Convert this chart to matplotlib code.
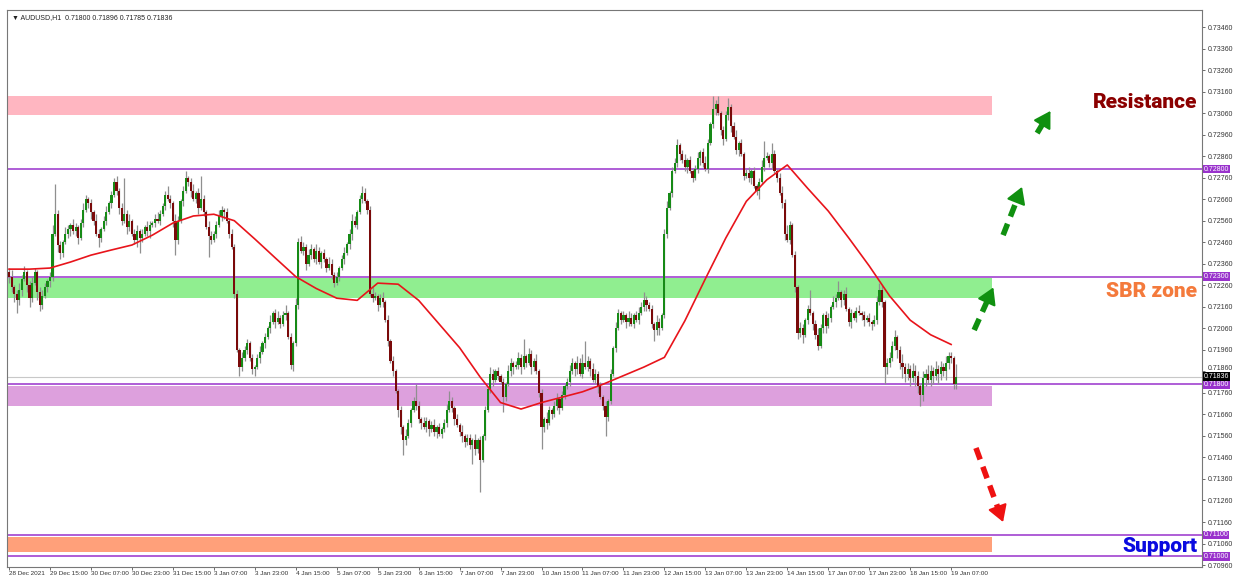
import numpy as np
import matplotlib
matplotlib.use('Agg')
import matplotlib.pyplot as plt
import matplotlib.transforms as transforms

# hourly closes, in 1e-5 above 0.70000 (open = previous close)
first_open = 2320
closes = [
	2300, 2250, 2220, 2190, 2240, 2290, 2320, 2260, 2200, 2270, 2320, 2230, 2170, 2210, 2250, 2280, 2300, 2500, 2590, 2445,
	2410, 2460, 2500, 2520, 2540, 2510, 2530, 2480, 2550, 2610, 2660, 2640, 2600, 2560, 2500, 2480, 2520, 2560, 2600, 2640,
	2680, 2740, 2700, 2620, 2560, 2590, 2530, 2560, 2500, 2470, 2510, 2480, 2500, 2530, 2510, 2540, 2550, 2570, 2560, 2590,
	2630, 2680, 2660, 2640, 2560, 2470, 2560, 2650, 2700, 2760, 2740, 2700, 2660, 2690, 2620, 2660, 2600, 2530, 2490, 2470,
	2500, 2540, 2580, 2610, 2600, 2560, 2500, 2440, 2220, 1960, 1880, 1920, 1960, 1990, 1920, 1870, 1880, 1920, 1950, 1990,
	2020, 2060, 2090, 2130, 2090, 2110, 2080, 2120, 2130, 2020, 1890, 1990, 2170, 2460, 2420, 2440, 2360, 2400, 2430, 2380,
	2420, 2370, 2410, 2380, 2340, 2360, 2310, 2270, 2300, 2340, 2380, 2410, 2450, 2500, 2560, 2540, 2600, 2660, 2690, 2650,
	2610, 2220, 2200, 2210, 2170, 2200, 2180, 2100, 2000, 1910, 1860, 1770, 1680, 1600, 1540, 1560, 1620, 1680, 1720, 1700,
	1640, 1620, 1600, 1630, 1590, 1610, 1580, 1600, 1570, 1590, 1620, 1680, 1720, 1690, 1640, 1610, 1580, 1560, 1530, 1550,
	1520, 1540, 1500, 1540, 1450, 1560, 1680, 1780, 1850, 1820, 1860, 1840, 1810, 1740, 1800, 1860, 1900, 1880, 1890, 1920,
	1880, 1930, 1900, 1940, 1880, 1910, 1860, 1760, 1600, 1640, 1620, 1680, 1660, 1700, 1730, 1690, 1750, 1790, 1810, 1860,
	1900, 1870, 1900, 1850, 1900, 1880, 1910, 1870, 1820, 1850, 1790, 1740, 1700, 1650, 1720, 1850, 1970, 2060, 2130, 2100,
	2120, 2090, 2110, 2080, 2120, 2100, 2130, 2160, 2190, 2170, 2150, 2080, 2050, 2090, 2060, 2120, 2500, 2620, 2690, 2790,
	2830, 2910, 2870, 2840, 2810, 2840, 2790, 2760, 2800, 2850, 2880, 2830, 2800, 2920, 3010, 3080, 3100, 3060, 2980, 2940,
	3050, 3090, 3000, 2950, 2890, 2920, 2870, 2770, 2780, 2760, 2790, 2720, 2700, 2740, 2810, 2850, 2860, 2830, 2870, 2790,
	2760, 2690, 2640, 2500, 2470, 2540, 2400, 2250, 2040, 2060, 2030, 2100, 2150, 2130, 2080, 2030, 1980, 2060, 2120, 2070,
	2110, 2160, 2180, 2200, 2230, 2190, 2220, 2150, 2090, 2130, 2110, 2140, 2130, 2120, 2100, 2110, 2090, 2080, 2100, 2180,
	2240, 2180, 1880, 1900, 1920, 1980, 2020, 1960, 1900, 1880, 1850, 1870, 1830, 1860, 1840, 1790, 1750, 1830, 1850, 1820,
	1860, 1840, 1870, 1850, 1880, 1860, 1900, 1930, 1920, 1800, 1836]

# wick lengths in pips above / below the body
wick_up = [
	2, 3, 1, 2, 3, 2, 3, 1, 2, 3, 2, 1, 2, 3, 2, 1, 2, 4, 14, 2,
	2, 1, 3, 2, 1, 3, 2, 1, 2, 3, 2, 1, 2, 1, 3, 2, 1, 2, 3, 1,
	2, 2, 3, 1, 2, 17, 2, 3, 1, 2, 3, 1, 2, 1, 3, 2, 1, 2, 3, 2,
	1, 2, 4, 2, 1, 3, 2, 1, 2, 3, 1, 2, 3, 1, 2, 11, 2, 1, 3, 2,
	1, 2, 3, 2, 1, 2, 1, 2, 1, 2, 1, 3, 2, 2, 1, 2, 1, 2, 3, 1,
	2, 1, 3, 1, 2, 3, 1, 2, 4, 1, 2, 1, 3, 2, 3, 2, 1, 3, 2, 1,
	3, 2, 1, 2, 1, 3, 2, 1, 2, 1, 2, 3, 1, 2, 3, 2, 1, 2, 3, 2,
	1, 2, 3, 2, 1, 2, 3, 1, 2, 1, 2, 1, 1, 2, 1, 3, 2, 1, 2, 8,
	2, 1, 3, 2, 1, 2, 3, 1, 2, 1, 2, 3, 5, 2, 1, 2, 1, 3, 1, 2,
	2, 1, 3, 1, 2, 1, 2, 1, 3, 2, 1, 2, 1, 2, 1, 3, 2, 1, 2, 3,
	2, 8, 1, 3, 2, 1, 3, 1, 2, 1, 3, 2, 1, 2, 3, 1, 2, 1, 2, 3,
	2, 1, 3, 2, 4, 10, 2, 1, 3, 2, 1, 2, 1, 2, 1, 2, 1, 3, 2, 1,
	2, 1, 3, 2, 1, 2, 3, 2, 4, 2, 1, 2, 1, 3, 2, 1, 2, 3, 1, 2,
	2, 3, 1, 2, 3, 1, 2, 1, 2, 3, 1, 2, 3, 2, 1, 6, 2, 4, 1, 2,
	2, 4, 1, 2, 3, 1, 2, 1, 2, 3, 1, 2, 1, 2, 3, 8, 2, 1, 5, 2,
	1, 2, 3, 2, 4, 2, 1, 2, 1, 3, 2, 1, 2, 9, 1, 2, 3, 2, 1, 2,
	2, 1, 3, 2, 5, 1, 2, 3, 1, 2, 1, 2, 3, 1, 2, 1, 2, 1, 2, 3,
	3, 2, 1, 2, 3, 2, 3, 1, 2, 4, 2, 3, 2, 4, 3, 2, 1, 3, 2, 4,
	3, 2, 4, 2, 3, 2, 3, 2, 2, 1, 6]
wick_dn = [
	3, 2, 4, 6, 2, 3, 1, 3, 4, 2, 1, 4, 3, 2, 1, 2, 3, 2, 1, 3,
	3, 2, 1, 2, 3, 1, 2, 3, 1, 2, 1, 2, 3, 2, 1, 4, 2, 1, 2, 1,
	2, 1, 2, 3, 2, 1, 3, 2, 1, 2, 3, 7, 2, 1, 2, 3, 1, 2, 1, 2,
	1, 2, 1, 2, 3, 7, 2, 1, 2, 1, 2, 3, 1, 2, 3, 1, 2, 1, 10, 2,
	1, 2, 1, 2, 3, 1, 2, 1, 2, 1, 4, 2, 1, 2, 1, 2, 3, 1, 2, 1,
	2, 1, 2, 1, 3, 1, 2, 1, 2, 1, 2, 3, 1, 2, 1, 2, 3, 1, 2, 1,
	2, 1, 3, 1, 2, 1, 2, 2, 1, 2, 1, 2, 1, 2, 3, 1, 2, 1, 2, 1,
	2, 1, 2, 1, 3, 1, 2, 1, 2, 1, 2, 1, 3, 3, 7, 2, 1, 2, 1, 2,
	2, 3, 1, 2, 3, 1, 2, 3, 1, 2, 1, 2, 1, 2, 3, 1, 2, 3, 2, 1,
	2, 9, 3, 2, 15, 1, 2, 1, 2, 3, 1, 2, 1, 7, 2, 1, 2, 3, 1, 2,
	3, 1, 2, 1, 3, 2, 1, 2, 10, 2, 3, 1, 2, 1, 2, 3, 1, 2, 1, 2,
	1, 3, 2, 1, 2, 1, 2, 3, 1, 2, 3, 1, 2, 9, 2, 1, 1, 2, 1, 2,
	1, 3, 2, 1, 2, 1, 2, 1, 2, 3, 1, 2, 5, 2, 3, 1, 1, 2, 1, 2,
	1, 2, 3, 1, 2, 3, 1, 2, 1, 2, 3, 2, 1, 2, 1, 2, 3, 1, 2, 3,
	1, 2, 3, 1, 2, 3, 1, 2, 1, 2, 3, 1, 2, 4, 1, 2, 1, 2, 3, 1,
	2, 1, 2, 3, 1, 2, 1, 2, 3, 2, 4, 1, 2, 1, 3, 2, 2, 1, 2, 3,
	1, 2, 1, 2, 1, 3, 2, 1, 2, 3, 1, 2, 1, 2, 3, 1, 2, 3, 1, 2,
	1, 2, 8, 3, 2, 1, 2, 4, 3, 5, 4, 3, 4, 2, 5, 3, 5, 3, 4, 2,
	3, 4, 2, 5, 3, 2, 4, 3, 2, 2, 2]

# moving average, read every 8 candles
ma_step = 8
ma_values = [0.72335, 0.72335, 0.72340, 0.72368, 0.72400, 0.72424, 0.72447, 0.72493, 0.72549, 0.72582,
	0.72590, 0.72560, 0.72475, 0.72387, 0.72300, 0.72245, 0.72200, 0.72190, 0.72270, 0.72265,
	0.72190, 0.72080, 0.71970, 0.71834, 0.71715, 0.71685, 0.71715, 0.71740, 0.71765, 0.71800,
	0.71840, 0.71880, 0.71925, 0.72095, 0.72290, 0.72480, 0.72650, 0.72750, 0.72819, 0.72710,
	0.72605, 0.72480, 0.72350, 0.72210, 0.72098, 0.72030, 0.71985]

time_step = 16
time_labels = ['28 Dec 2021', '29 Dec 15:00', '30 Dec 07:00', '30 Dec 23:00', '31 Dec 15:00', '3 Jan 07:00',
	'3 Jan 23:00', '4 Jan 15:00', '5 Jan 07:00', '5 Jan 23:00', '6 Jan 15:00', '7 Jan 07:00', '7 Jan 23:00',
	'10 Jan 15:00', '11 Jan 07:00', '11 Jan 23:00', '12 Jan 15:00', '13 Jan 07:00', '13 Jan 23:00',
	'14 Jan 15:00', '17 Jan 07:00', '17 Jan 23:00', '18 Jan 15:00', '19 Jan 07:00']

levels = [0.72800, 0.72300, 0.71800, 0.71100, 0.71000]
bid = 0.71836
zones = [(0.73050, 0.73140, '#ffb6c1'), (0.72200, 0.72295, '#90ee90'),
	(0.71700, 0.71790, '#dda0dd'), (0.71020, 0.71090, '#ffa07a')]
zone_end = 384

arrows = [((377.0, 0.72052), (384.5, 0.72250), '#109010'),
	((388.3, 0.72493), (395.7, 0.72717), '#109010'),
	((401.6, 0.72967), (406.8, 0.73070), '#109010'),
	((377.7, 0.71504), (388.3, 0.71160), '#ee1111')]

labels = [('Resistance', 0.73111, '#8b0000'), ('SBR zone', 0.72233, '#f47a3c'), ('Support', 0.71048, '#0a0ae0')]

PURPLE = '#9932cc'
SMALL = ['Liberation Sans', 'DejaVu Sans']


def main():
	fig = plt.figure(figsize = (12.36, 5.79), dpi = 100)
	ax = fig.add_axes([7 / 1236, 12 / 579, 1195 / 1236, 557 / 579])

	c = 0.7 + np.array(closes) / 1e5
	o = np.r_[0.7 + first_open / 1e5, c[:-1]]
	hi = np.maximum(o, c) + np.array(wick_up) * 1e-4
	lo = np.minimum(o, c) - np.array(wick_dn) * 1e-4
	idx = np.arange(len(c))

	for (z0, z1, col) in zones:
		ax.fill_between([-1, zone_end], z0, z1, color = col, linewidth = 0, zorder = 1)
	for lv in levels:
		ax.axhline(lv, color = PURPLE, linewidth = 1.1, zorder = 2)
	ax.axhline(bid, color = '#c8c8c8', linewidth = 0.8, zorder = 2)

	ax.vlines(idx, lo, hi, color = '#8f8f8f', linewidth = 0.9, zorder = 3)
	up = c >= o
	body = np.maximum(np.abs(c - o), 0.00004)
	ax.bar(idx[up], body[up], bottom = o[up], width = 0.85, color = '#168a16', linewidth = 0, zorder = 4)
	ax.bar(idx[~up], body[~up], bottom = c[~up], width = 0.85, color = '#7a0a0a', linewidth = 0, zorder = 4)

	ma_x = np.arange(len(ma_values)) * ma_step
	ax.plot(ma_x, ma_values, color = '#e8141b', linewidth = 1.2, zorder = 5, solid_joinstyle = 'round')

	for (tail, tip, col) in arrows:
		vx, vy = tip[0] - tail[0], tip[1] - tail[1]
		base = (tip[0] - 0.2 * vx, tip[1] - 0.2 * vy)
		ax.plot([tail[0], base[0]], [tail[1], base[1]], color = col, linewidth = 4,
			dashes = (2.2, 1.4), solid_capstyle = 'butt', zorder = 6)
		ax.annotate('', xy = tip, xytext = base, zorder = 6,
			arrowprops = dict(arrowstyle = '-|>,head_length=1.0,head_width=0.6', color = col, linewidth = 1.5, shrinkA = 0, shrinkB = 0))

	trans = transforms.blended_transform_factory(ax.transAxes, ax.transData)
	for (txt, y, col) in labels:
		ax.text(0.996, y, txt, transform = trans, ha = 'right', va = 'center', color = col,
			fontsize = 15, fontweight = 'black', family = ['Roboto', 'DejaVu Sans'], zorder = 7)

	ax.set_xlim(-0.8, 466)
	ax.set_ylim(0.70951, 0.73539)

	ticks = np.round(np.arange(0.70960, 0.73461, 0.001), 5)
	ax.yaxis.tick_right()
	ax.set_yticks(ticks)
	ax.set_yticklabels(['%.5f' % t for t in ticks])
	ax.tick_params(axis = 'y', labelsize = 5, length = 2, width = 0.5, pad = 2, colors = '#333333')
	ax.set_xticks(np.arange(len(time_labels)) * time_step)
	ax.set_xticklabels(time_labels)
	ax.tick_params(axis = 'x', labelsize = 4.6, length = 2, width = 0.5, pad = 1, colors = '#333333')
	for lab in ax.get_xticklabels():
		lab.set_ha('left')
	for lab in ax.get_xticklabels() + ax.get_yticklabels():
		lab.set_family(SMALL)
	# the tick label just above the bid box sits a little higher, as in the terminal
	for lab in ax.get_yticklabels():
		if lab.get_text() == '0.71860':
			lab.set_transform(lab.get_transform() + transforms.ScaledTranslation(0, 3 / 72, fig.dpi_scale_trans))

	for sp in ax.spines.values():
		sp.set_color('#777777')
		sp.set_linewidth(0.8)

	for lv in levels:
		ax.text(1.0015, lv, '%.5f' % lv, transform = trans, ha = 'left', va = 'center', color = 'white',
			fontsize = 5, family = SMALL, clip_on = False, zorder = 8,
			bbox = dict(boxstyle = 'square,pad=0.12', facecolor = PURPLE, edgecolor = 'none'))
	ax.text(1.0015, bid, '%.5f' % bid, transform = trans, ha = 'left', va = 'center', color = 'white',
		fontsize = 5, family = SMALL, clip_on = False, zorder = 8,
		bbox = dict(boxstyle = 'square,pad=0.12', facecolor = 'black', edgecolor = 'none'))

	ax.text(0.004, 0.993, '\u25bc AUDUSD,H1  %.5f %.5f %.5f %.5f' % (o[-1], hi[-1], 0.71785, c[-1]),
		transform = ax.transAxes, ha = 'left', va = 'top', fontsize = 5, color = '#222222', family = SMALL)

	fig.savefig('out.png', dpi = 100)
	return 0


if __name__ == '__main__':
	main()
